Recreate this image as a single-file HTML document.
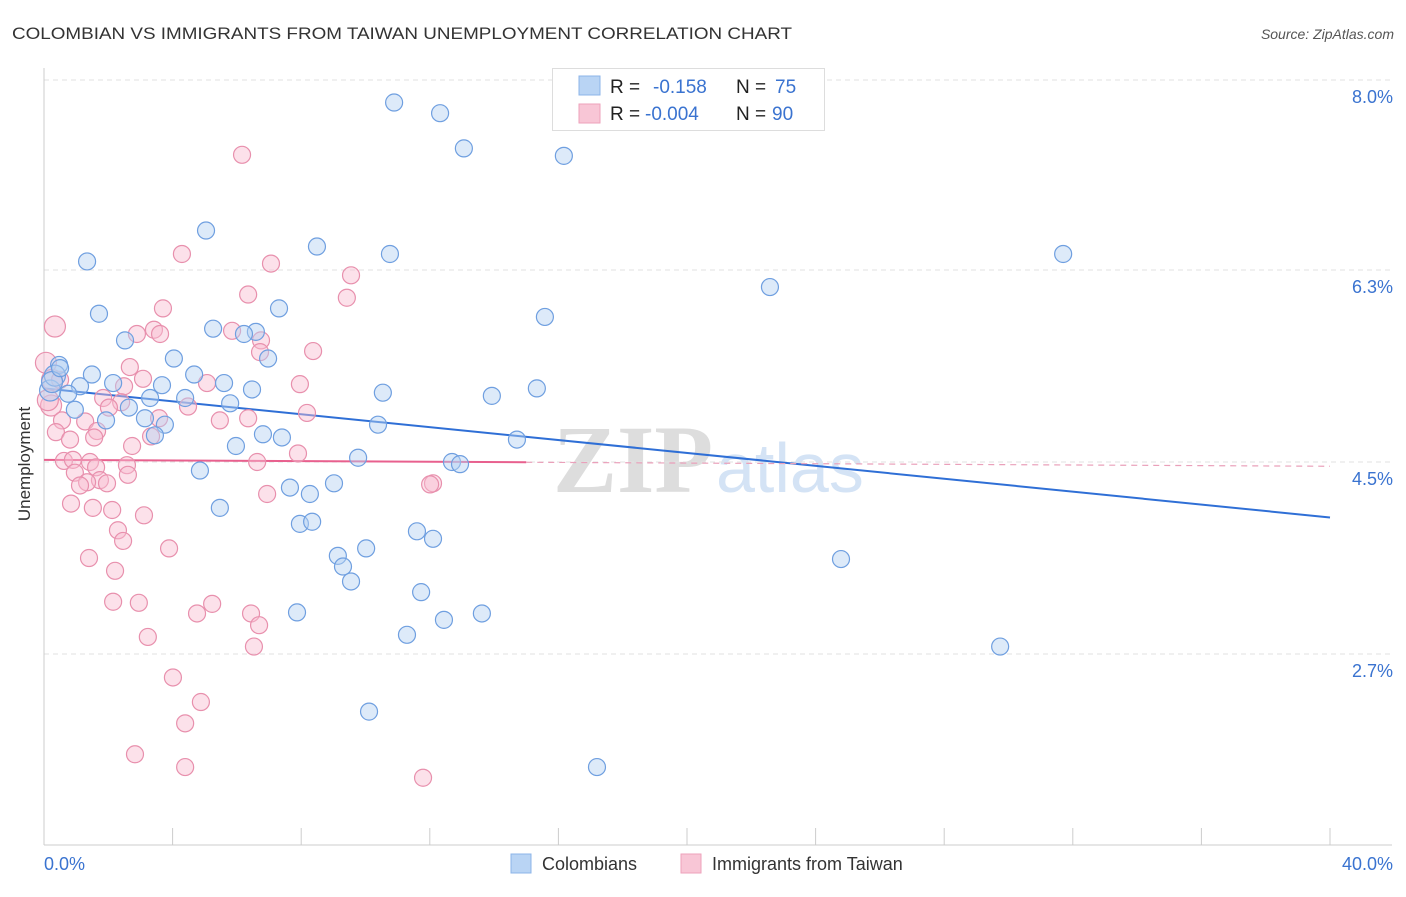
<!DOCTYPE html>
<html><head><meta charset="utf-8"><style>
body{margin:0;background:#fff;font-family:"Liberation Sans",sans-serif;}
</style></head><body>
<svg id="chart" width="1406" height="892" xmlns="http://www.w3.org/2000/svg" font-family="Liberation Sans, sans-serif">
<text x="12" y="39" font-size="17" fill="#333" textLength="780" lengthAdjust="spacingAndGlyphs">COLOMBIAN VS IMMIGRANTS FROM TAIWAN UNEMPLOYMENT CORRELATION CHART</text>
<text x="1394" y="39" font-size="14" fill="#555" font-style="italic" text-anchor="end">Source: ZipAtlas.com</text>
<text x="22" y="456" font-size="17" fill="#333" transform="rotate(-90 30 456)" text-anchor="middle">Unemployment</text>
<g>
<text x="553" y="492" font-size="96" fill="#ddd" font-family="Liberation Serif, serif" font-weight="bold">ZIP</text>
<text x="716" y="492" font-size="70" fill="#d4e3f5">atlas</text>
</g>
<g id="grid"></g><g id="axes"></g><g id="trends"></g><g id="pts"></g>
<g>
<rect x="552.5" y="68.5" width="272" height="62" fill="#fff" stroke="#ddd"/>
<rect x="579" y="76" width="21" height="19" fill="#b9d4f4" stroke="#8cb4e8"/>
<rect x="579" y="104" width="21" height="19" fill="#f8c6d6" stroke="#eea2bb"/>
<text x="610" y="93" font-size="19" fill="#222">R = </text><text x="653" y="93" font-size="19" fill="#3a73d0">-0.158</text>
<text x="736" y="93" font-size="19" fill="#222">N = </text><text x="775" y="93" font-size="19" fill="#3a73d0">75</text>
<text x="610" y="120" font-size="19" fill="#222">R = </text><text x="645" y="120" font-size="19" fill="#3a73d0">-0.004</text>
<text x="736" y="120" font-size="19" fill="#222">N = </text><text x="772" y="120" font-size="19" fill="#3a73d0">90</text>
</g>
<g>
<rect x="511" y="854" width="20" height="19" fill="#b9d4f4" stroke="#8cb4e8"/>
<text x="542" y="870" font-size="18" fill="#333">Colombians</text>
<rect x="681" y="854" width="20" height="19" fill="#f8c6d6" stroke="#eea2bb"/>
<text x="712" y="870" font-size="18" fill="#333">Immigrants from Taiwan</text>
</g>
</svg>
<script>
const yTicks=[2.7,4.5,6.3,8.0];
const yTickLabels=["2.7%","4.5%","6.3%","8.0%"];
const xTickCount=10;
const blueX=[10.89,12.32,13.06,16.17,5.04,8.49,10.76,1.34,31.70,22.58,1.71,7.31,15.58,5.26,6.59,6.22,2.52,4.04,6.97,0.47,1.49,4.67,2.15,3.67,5.60,1.12,6.47,10.54,13.93,15.33,0.75,0.19,3.30,4.39,5.79,2.64,0.96,3.14,1.93,3.76,10.39,3.45,6.81,7.40,14.71,5.97,9.77,12.69,12.94,4.85,9.02,7.65,8.27,5.47,7.96,8.34,11.60,12.10,10.02,9.14,24.79,9.30,9.55,11.73,7.87,13.62,12.44,11.29,29.74,10.11,17.20,0.34,0.25,0.50];
const blueY=[7.87,7.77,7.44,7.37,6.67,6.52,6.45,6.38,6.45,6.14,5.89,5.94,5.86,5.75,5.72,5.70,5.64,5.47,5.47,5.41,5.32,5.32,5.24,5.22,5.24,5.21,5.18,5.15,5.12,5.19,5.14,5.17,5.10,5.10,5.05,5.01,4.99,4.91,4.89,4.85,4.85,4.75,4.76,4.73,4.71,4.65,4.54,4.50,4.48,4.42,4.30,4.26,4.20,4.07,3.92,3.94,3.85,3.78,3.69,3.62,3.59,3.52,3.38,3.28,3.09,3.08,3.02,2.88,2.77,2.16,1.64,5.31,5.25,5.38];
const pinkX=[6.16,4.29,7.06,9.55,6.35,9.42,3.70,0.34,3.42,2.89,3.61,5.85,6.75,8.37,6.72,0.06,2.67,0.25,3.08,5.07,7.96,2.49,1.84,2.40,0.22,4.48,2.02,8.18,5.47,3.58,6.35,0.56,1.28,0.37,1.65,3.33,0.81,1.56,2.74,7.90,0.62,0.90,1.43,6.63,2.58,1.62,2.61,0.96,1.74,1.34,1.96,1.12,12.10,12.01,6.94,0.84,1.52,2.12,3.11,2.30,2.46,3.89,1.40,2.21,2.15,2.95,5.23,4.76,6.44,6.69,3.23,6.53,4.01,4.88,4.39,2.83,4.39,11.79,0.12,0.50];
const pinkY=[7.38,6.45,6.36,6.25,6.07,6.04,5.94,5.77,5.74,5.70,5.70,5.73,5.64,5.54,5.53,5.43,5.39,5.27,5.28,5.24,5.23,5.21,5.10,5.06,5.03,5.02,5.01,4.96,4.89,4.91,4.91,4.89,4.88,4.78,4.79,4.74,4.71,4.73,4.65,4.58,4.51,4.52,4.50,4.50,4.47,4.45,4.38,4.40,4.33,4.31,4.30,4.28,4.30,4.29,4.20,4.11,4.07,4.05,4.00,3.86,3.76,3.69,3.60,3.48,3.19,3.18,3.17,3.08,3.08,2.97,2.86,2.77,2.48,2.25,2.05,1.76,1.64,1.54,5.08,5.27];
const blueTrend=[5.19,3.98];
const pinkTrend=[4.52,4.46];
const pinkSolidEnd=15;
const NS="http://www.w3.org/2000/svg";
const X=v=>44+v*32.15;
const Y=v=>462-(v-4.5)*106.67;
function mk(tag,attrs,parent){const e=document.createElementNS(NS,tag);for(const k in attrs)e.setAttribute(k,attrs[k]);document.getElementById(parent).appendChild(e);return e;}
yTicks.forEach((t,i)=>{
 const gy=i==3?80:Y(t);
 const l=mk('line',{x1:44,x2:1392,y1:gy,y2:gy,stroke:'#e2e2e2','stroke-dasharray':'5,4'},'grid');
 
 
 const tx=mk('text',{x:1393,y:gy+23,'font-size':18,fill:'#3a73d0','text-anchor':'end'},'grid');
 tx.textContent=yTickLabels[i];
 
 
});
let a=mk('line',{x1:44,x2:44,y1:68,y2:845,stroke:'#ccc'},'axes');


a=mk('line',{x1:44,x2:1392,y1:845,y2:845,stroke:'#ccc'},'axes');


for(let i=0;i<=xTickCount;i++){const tx=X(i*4);const t=mk('line',{x1:tx,x2:tx,y1:828,y2:845,stroke:'#ccc'},'axes');
 
 }
let xl=mk('text',{x:44,y:870,'font-size':18,fill:'#3a73d0'},'axes');xl.textContent='0.0%';


xl=mk('text',{x:1393,y:870,'font-size':18,fill:'#3a73d0','text-anchor':'end'},'axes');xl.textContent='40.0%';


function dots(xs,ys,fill,stroke,name){xs.forEach((x,i)=>{const big=x<0.36&&ys[i]>5.0;
 const c=mk('circle',{cx:X(x),cy:Y(ys[i]),r:big?10.5:8.5,fill:fill,'fill-opacity':0.45,stroke:stroke,'stroke-width':1.2},'pts');
 
 });}
dots(pinkX,pinkY,'#f8bcd0','#e890ad','point-taiwan');
dots(blueX,blueY,'#b4d0f2','#6f9fe0','point-colombian');
let tl=mk('line',{x1:X(0),y1:Y(blueTrend[0]),x2:X(40),y2:Y(blueTrend[1]),stroke:'#2f6fd6','stroke-width':2},'trends');


const pm=pinkTrend[0]+(pinkTrend[1]-pinkTrend[0])*pinkSolidEnd/40;
tl=mk('line',{x1:X(0),y1:Y(pinkTrend[0]),x2:X(pinkSolidEnd),y2:Y(pm),stroke:'#e8608e','stroke-width':2},'trends');


tl=mk('line',{x1:X(pinkSolidEnd),y1:Y(pm),x2:X(40),y2:Y(pinkTrend[1]),stroke:'#eaa0ba','stroke-width':1.2,'stroke-dasharray':'6,5'},'trends');


</script>
</body></html>
